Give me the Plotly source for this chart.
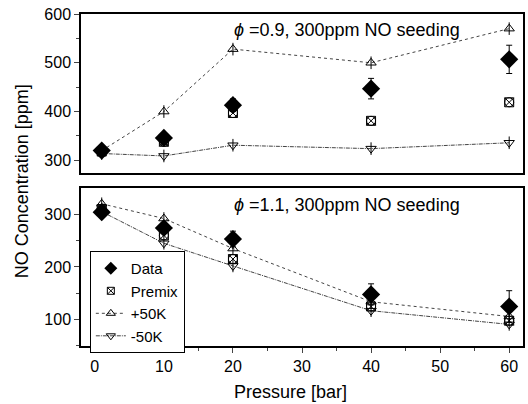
import plotly.graph_objects as go

pressure = [1, 10, 20, 40, 60]

# phi = 0.9 (top panel)
data09 = [320, 346, 413, 447, 507]
err09 = [4, 6, 13, 21, 29]
premix09 = [318, 338, 397, 381, 419]
plus09 = [320, 400, 528, 500, 570]
minus09 = [314, 309, 331, 324, 336]

# phi = 1.1 (bottom panel)
data11 = [304, 274, 253, 148, 125]
err11 = [4, 6, 15, 20, 30]
premix11 = [310, 260, 215, 125, 98]
plus11 = [320, 292, 235, 134, 106]
minus11 = [305, 245, 202, 117, 91]

FONT = "Liberation Sans, Arial, sans-serif"
LINEC = "#444"
fig = go.Figure()

def add_panel(row_y, xa, data, err, premix, plus, minus):
    fig.add_trace(go.Scatter(x=pressure, y=plus, mode="lines", xaxis=xa, yaxis=row_y,
                             line=dict(color=LINEC, width=1, dash="dot"), showlegend=False, hoverinfo="skip"))
    fig.add_trace(go.Scatter(x=pressure, y=minus, mode="lines", xaxis=xa, yaxis=row_y,
                             line=dict(color=LINEC, width=1, dash="4px,1px,1px,1px"), showlegend=False, hoverinfo="skip"))
    for sym in ["triangle-up-open", "line-ns-open"]:
        fig.add_trace(go.Scatter(x=pressure, y=plus, mode="markers", xaxis=xa, yaxis=row_y,
                                 marker=dict(symbol=sym, size=9, color="black", line=dict(width=1)),
                                 showlegend=False))
    for sym in ["triangle-down-open", "line-ns-open"]:
        fig.add_trace(go.Scatter(x=pressure, y=minus, mode="markers", xaxis=xa, yaxis=row_y,
                                 marker=dict(symbol=sym, size=9, color="black", line=dict(width=1)),
                                 showlegend=False))
    for sym in ["square-x-open", "circle-open"]:
        fig.add_trace(go.Scatter(x=pressure, y=premix, mode="markers", xaxis=xa, yaxis=row_y,
                                 marker=dict(symbol=sym, size=9, color="black", line=dict(width=1)),
                                 showlegend=False))
    fig.add_trace(go.Scatter(x=pressure, y=data, mode="markers", xaxis=xa, yaxis=row_y,
                             error_y=dict(type="data", array=err, color="black", thickness=1, width=3),
                             marker=dict(symbol="diamond", size=14, color="black"),
                             showlegend=False))

add_panel("y", "x", data09, err09, premix09, plus09, minus09)
add_panel("y2", "x2", data11, err11, premix11, plus11, minus11)

# legend-only traces
fig.add_trace(go.Scatter(x=[None], y=[None], mode="markers", name="Data", xaxis="x2", yaxis="y2",
                         marker=dict(symbol="diamond", size=10, color="black")))
fig.add_trace(go.Scatter(x=[None], y=[None], mode="markers", name="Premix", xaxis="x2", yaxis="y2",
                         marker=dict(symbol="square-x-open", size=7, color="black", line=dict(width=1))))
fig.add_trace(go.Scatter(x=[None], y=[None], mode="lines+markers", name="+50K", xaxis="x2", yaxis="y2",
                         line=dict(color=LINEC, width=1, dash="dot"),
                         marker=dict(symbol="triangle-up-open", size=8, color="black", line=dict(width=1))))
fig.add_trace(go.Scatter(x=[None], y=[None], mode="lines+markers", name="-50K", xaxis="x2", yaxis="y2",
                         line=dict(color=LINEC, width=1, dash="4px,1px,1px,1px"),
                         marker=dict(symbol="triangle-down-open", size=8, color="black", line=dict(width=1))))

axis_common = dict(showline=True, linecolor="black", linewidth=1.5, mirror=True, showgrid=False,
                   zeroline=False, tickfont=dict(family=FONT, size=16, color="black"))

fig.update_layout(
    width=528, height=404,
    margin=dict(l=81, r=3, t=14, b=58),
    paper_bgcolor="white", plot_bgcolor="white",
    font=dict(family=FONT, size=16, color="black"),
    xaxis=dict(range=[-2, 62], domain=[0, 1], anchor="y", showticklabels=False, ticks="", **axis_common),
    yaxis=dict(range=[274, 600], domain=[0.521, 1], anchor="x", tickvals=[300, 400, 500, 600],
               ticks="outside", ticklen=5, tickwidth=1,
               minor=dict(tickvals=[350, 450, 550], ticks="outside", ticklen=3, tickwidth=1),
               **axis_common),
    xaxis2=dict(range=[-2, 62], domain=[0, 1], anchor="y2", tickvals=[0, 10, 20, 30, 40, 50, 60],
                ticks="outside", ticklen=5, tickwidth=1,
                minor=dict(tickvals=[5, 15, 25, 35, 45, 55], ticks="outside", ticklen=3, tickwidth=1),
                **axis_common),
    yaxis2=dict(range=[50, 350], domain=[0, 0.476], anchor="x2", tickvals=[100, 200, 300],
                ticks="outside", ticklen=5, tickwidth=1,
                minor=dict(tickvals=[50, 150, 250], ticks="outside", ticklen=3, tickwidth=1),
                **axis_common),
    legend=dict(x=0.02, y=0.286, xanchor="left", yanchor="top", bordercolor="black", borderwidth=1,
                bgcolor="white", font=dict(family=FONT, size=15), tracegroupgap=0, itemwidth=30),
    annotations=[
        dict(text="<i>ϕ</i> =0.9, 300ppm NO seeding", xref="paper", yref="paper", x=(233 - 81) / 444,
             y=(346 - 30) / 332, xanchor="left", yanchor="middle", showarrow=False,
             font=dict(family=FONT, size=18)),
        dict(text="<i>ϕ</i> =1.1, 300ppm NO seeding", xref="paper", yref="paper", x=(233 - 81) / 444,
             y=(346 - 205) / 332, xanchor="left", yanchor="middle", showarrow=False,
             font=dict(family=FONT, size=18)),
        dict(text="NO Concentration [ppm]", xref="paper", yref="paper", x=(22 - 81) / 444,
             y=(346 - 181) / 332, xanchor="center", yanchor="middle", textangle=-90, showarrow=False,
             font=dict(family=FONT, size=18)),
        dict(text="Pressure [bar]", xref="paper", yref="paper", x=(291 - 81) / 444,
             y=(346 - 392) / 332, xanchor="center", yanchor="middle", showarrow=False,
             font=dict(family=FONT, size=18)),
    ],
)

fig.write_html("out.html")
